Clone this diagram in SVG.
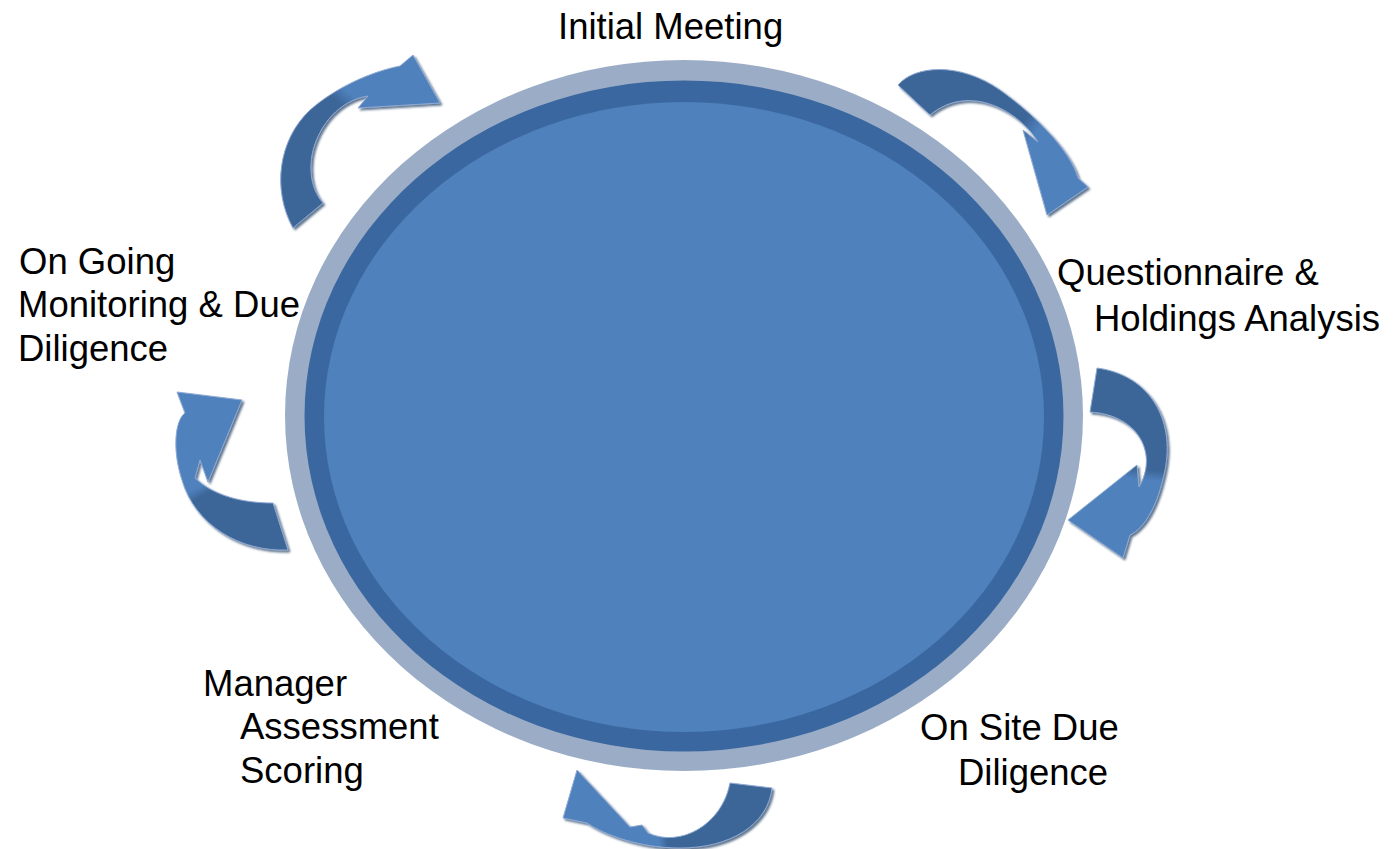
<svg xmlns="http://www.w3.org/2000/svg" width="1393" height="849" viewBox="0 0 1393 849">
<style>
.lbl{font-family:"Liberation Sans",Arial,sans-serif;font-size:36.5px;fill:#000}
.arr{stroke:#8FAAD4;stroke-width:1;filter:url(#sh)}
</style>
<defs>
<filter id="sh" x="-20%" y="-20%" width="140%" height="140%">
<feDropShadow dx="2" dy="2" stdDeviation="1" flood-color="#1F3A60" flood-opacity="0.7"/>
</filter>
<linearGradient id="g1" gradientUnits="userSpaceOnUse" x1="300" y1="220" x2="420" y2="80">
<stop offset="0" stop-color="#3D6698"/><stop offset="0.62" stop-color="#3D6698"/><stop offset="0.7" stop-color="#4F81BD"/><stop offset="1" stop-color="#4F81BD"/>
</linearGradient>
<linearGradient id="g2" gradientUnits="userSpaceOnUse" x1="900" y1="90" x2="1070" y2="200">
<stop offset="0" stop-color="#3D6698"/><stop offset="0.6" stop-color="#3D6698"/><stop offset="0.68" stop-color="#4F81BD"/><stop offset="1" stop-color="#4F81BD"/>
</linearGradient>
<linearGradient id="g3" gradientUnits="userSpaceOnUse" x1="1120" y1="370" x2="1100" y2="540">
<stop offset="0" stop-color="#3D6698"/><stop offset="0.56" stop-color="#3D6698"/><stop offset="0.62" stop-color="#4F81BD"/><stop offset="1" stop-color="#4F81BD"/>
</linearGradient>
<linearGradient id="g4" gradientUnits="userSpaceOnUse" x1="770" y1="790" x2="580" y2="800">
<stop offset="0" stop-color="#3D6698"/><stop offset="0.55" stop-color="#3D6698"/><stop offset="0.6" stop-color="#4F81BD"/><stop offset="1" stop-color="#4F81BD"/>
</linearGradient>
<linearGradient id="g5" gradientUnits="userSpaceOnUse" x1="285" y1="545" x2="205" y2="400">
<stop offset="0" stop-color="#3D6698"/><stop offset="0.5" stop-color="#3D6698"/><stop offset="0.56" stop-color="#4F81BD"/><stop offset="1" stop-color="#4F81BD"/>
</linearGradient>
</defs>
<rect width="1393" height="849" fill="#fff"/>
<g id="center">
<ellipse cx="684" cy="415.5" rx="399" ry="355.5" fill="#9BADC6"/>
<ellipse cx="684" cy="416" rx="379.5" ry="335.5" fill="#3A679F"/>
<ellipse cx="684" cy="417" rx="360" ry="315" fill="#4F81BD"/>
</g>
<g id="connectors">
<path class="arr" fill="url(#g1)" d="M293,228 C272,190 278,140 310,110 C335,88 370,72 400,66 L413,55 L440,103 L358,108 L368,96 C340,100 318,125 312,155 C308,180 316,195 323,203 Z"/>
<path class="arr" fill="url(#g2)" d="M898,85 C915,65 960,62 1000,90 C1035,115 1070,150 1078,178 L1088,187 L1047,215 L1023,130 L1038,142 C1020,112 970,82 930,115 Z"/>
<path class="arr" fill="url(#g3)" d="M1097,368 C1150,375 1175,420 1165,470 C1158,505 1145,528 1130,535 L1123,558 L1068,520 L1137,465 L1139,487 C1158,455 1140,415 1090,412 Z"/>
<path class="arr" fill="url(#g4)" d="M730,783 L772,788 C768,825 730,848 680,848 C640,848 605,835 587,823 L563,818 L577,770 L630,827 L642,825 L648,833 C680,848 722,825 730,783 Z"/>
<path class="arr" fill="url(#g5)" d="M177,392 L242,400 L208,482 L200,460 L195,478 C215,497 245,503 273,503 L288,550 C240,552 195,525 182,480 C172,450 175,420 185,413 Z"/>
</g>
<g id="n-initial"><text class="lbl" x="558" y="39">Initial Meeting</text></g>
<g id="n-questionnaire"><text class="lbl" x="1057" y="285">Questionnaire &amp;</text><text class="lbl" x="1094" y="331">Holdings Analysis</text></g>
<g id="n-onsite"><text class="lbl" x="920" y="740">On Site Due</text><text class="lbl" x="958" y="785">Diligence</text></g>
<g id="n-manager"><text class="lbl" x="203" y="696">Manager</text><text class="lbl" x="240" y="739">Assessment</text><text class="lbl" x="240" y="783">Scoring</text></g>
<g id="n-ongoing"><text class="lbl" x="19" y="274">On Going</text><text class="lbl" x="18" y="317">Monitoring &amp; Due</text><text class="lbl" x="18" y="361">Diligence</text></g>
</svg>
